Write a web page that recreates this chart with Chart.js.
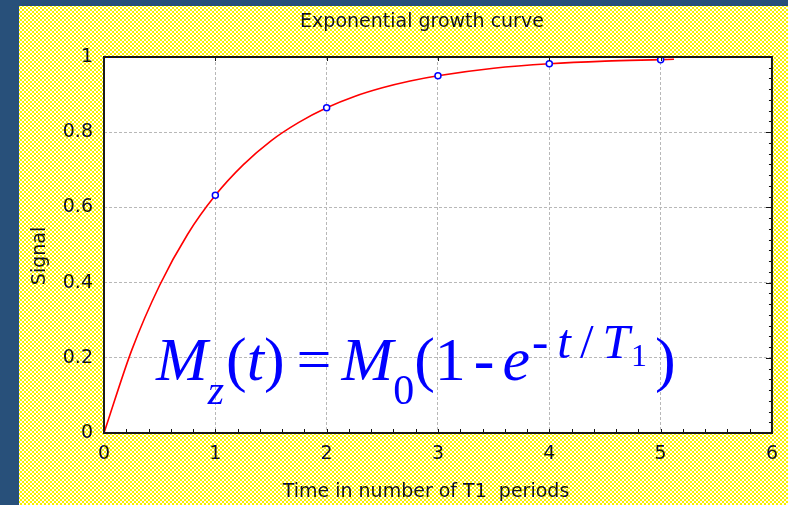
<!DOCTYPE html>
<html>
<head>
<meta charset="utf-8">
<script src="https://cdn.jsdelivr.net/npm/chart.js@4.4.1/dist/chart.umd.min.js"></script>
<style>
  html, body { margin: 0; padding: 0; }
  body { width: 788px; height: 505px; background: #28507a; position: relative; overflow: hidden; }
  #panel {
    position: absolute; left: 19px; top: 6px; right: 0; bottom: 0;
    background-color: #fffff4;
    background-image: radial-gradient(#f9f000 32%, transparent 40%), radial-gradient(#f9f000 32%, transparent 40%);
    background-size: 4px 4px;
    background-position: 0 0, 2px 2px;
  }
  #wrap { position: absolute; left: 0; top: 0; width: 788px; height: 505px; }
  #eq {
    position: absolute; left: 156px; top: 328px;
    font-family: "Liberation Serif", "DejaVu Serif", serif;
    font-size: 62px; line-height: 62px; color: #0000ff; white-space: nowrap;
  }
  #eq i { font-style: italic; }
  #eq .sub { font-size: 42px; position: relative; top: 24px; }
  #eq .sup { font-size: 49px; position: relative; top: -22px; letter-spacing: 9px; margin-left: 2px; }
  #eq .sup .tt { letter-spacing: 1px; }
  #eq .sup .sub1 { font-size: 32px; position: relative; top: 8px; letter-spacing: 0; }
</style>
</head>
<body>
<div id="panel"></div>
<div id="wrap"><canvas id="curveChart" width="788" height="505"></canvas></div>
<div id="eq"><i>M</i><span class="sub"><i>z</i></span><span style="margin-left:2px">(</span><i>t</i>)<span style="margin:0 10px 0 12px">=</span><i>M</i><span class="sub">0</span>(1<span style="margin:0 8px">-</span><i>e</i><span class="sup">-<i>t</i>/<i class="tt">T</i><span class="sub1">1</span></span><span style="margin-left:8px">)</span></div>

<script>
// recovery curve
const times = [0, 0.25, 0.5, 0.75, 1, 1.25, 1.5, 1.75, 2, 2.25, 2.5, 2.75, 3, 3.5, 4, 4.5, 5, 5.12];
const signal = [0, 0.221, 0.393, 0.528, 0.632, 0.713, 0.777, 0.826, 0.865, 0.895, 0.918, 0.936, 0.95, 0.97, 0.982, 0.989, 0.993, 0.994];

// measured points at whole T1 periods
const sampleTimes = [1, 2, 3, 4, 5];
const sampleSignal = [0.632, 0.865, 0.95, 0.982, 0.993];

const xTickLabels = ['0', '1', '2', '3', '4', '5', '6'];
const yTickLabels = ['0', '0.2', '0.4', '0.6', '0.8', '1'];

const titleText = 'Exponential growth curve';
const xTitle = 'Time in number of T1  periods';
const yTitle = 'Signal';

const FONT = '"DejaVu Sans", sans-serif';

// white plot box, inward ticks, frame and the titles
const frame = {
    id: 'frame',
    beforeDraw(chart) {
        const a = chart.chartArea, c = chart.ctx;
        c.save();
        c.fillStyle = '#ffffff';
        c.fillRect(a.left, a.top, a.right - a.left, a.bottom - a.top);
        c.restore();
    },
    afterDraw(chart) {
        const a = chart.chartArea, c = chart.ctx;
        const xs = chart.scales.x, ys = chart.scales.y;
        c.save();
        c.strokeStyle = '#111';
        c.lineWidth = 1;
        c.beginPath();
        // bottom ticks every 0.2
        for (let i = 0; i <= 30; i++) {
            const px = Math.round(xs.getPixelForValue(i * 0.2)) + 0.5;
            c.moveTo(px, a.bottom);
            c.lineTo(px, a.bottom - 4);
        }
        // top ticks on whole periods
        for (let i = 1; i < 6; i++) {
            const px = Math.round(xs.getPixelForValue(i)) + 0.5;
            c.moveTo(px, a.top);
            c.lineTo(px, a.top + 4);
        }
        // right side ticks
        for (let i = 0; i <= 35; i++) {
            const py = Math.round(ys.getPixelForValue(i / 35)) + 0.5;
            const len = (i % 7 === 0) ? 6 : 3;
            c.moveTo(a.right, py);
            c.lineTo(a.right - len, py);
        }
        c.stroke();

        c.lineWidth = 2;
        c.strokeStyle = '#1a1a1a';
        c.strokeRect(a.left, a.top, a.right - a.left, a.bottom - a.top);

        c.fillStyle = '#1a1a1a';
        c.font = '19px ' + FONT;
        c.textAlign = 'center';
        c.textBaseline = 'alphabetic';
        const mid = (a.left + a.right) / 2;
        c.fillText(titleText, mid - 16, 27);
        c.fillText(xTitle, mid - 12, 497);
        c.translate(45, (a.top + a.bottom) / 2 + 11);
        c.rotate(-Math.PI / 2);
        c.fillText(yTitle, 0, 0);
        c.restore();
    }
};

new Chart(document.getElementById('curveChart'), {
    type: 'scatter',
    data: {
        datasets: [{
            label: 'curve',
            data: times.map((t, i) => ({ x: t, y: signal[i] })),
            showLine: true,
            borderColor: '#ff0000',
            borderWidth: 1.6,
            pointRadius: 0,
            cubicInterpolationMode: 'monotone',
            order: 2
        }, {
            label: 'samples',
            data: sampleTimes.map((t, i) => ({ x: t, y: sampleSignal[i] })),
            showLine: false,
            pointRadius: 3,
            pointBorderWidth: 1.5,
            pointBorderColor: '#0000ff',
            pointBackgroundColor: '#ffffff',
            order: 1
        }]
    },
    options: {
        responsive: false,
        animation: false,
        layout: { padding: { top: 57, right: 14, left: 0, bottom: 0 } },
        plugins: { legend: { display: false }, tooltip: { enabled: false } },
        scales: {
            x: {
                type: 'linear', min: 0, max: 6,
                afterFit(s) { s.height = 72; },
                ticks: {
                    stepSize: 1, padding: 10,
                    color: '#1a1a1a', font: { family: FONT, size: 19 },
                    callback: (v) => xTickLabels[v]
                },
                grid: { drawTicks: false, color: '#b8b8b8', lineWidth: 1 },
                border: { display: false, dash: [3, 2] }
            },
            y: {
                type: 'linear', min: 0, max: 1,
                afterFit(s) { s.width = 104; },
                ticks: {
                    stepSize: 0.2, padding: 11,
                    color: '#1a1a1a', font: { family: FONT, size: 19 },
                    callback: (v) => yTickLabels[Math.round(v * 5)]
                },
                grid: { drawTicks: false, color: '#b8b8b8', lineWidth: 1 },
                border: { display: false, dash: [3, 2] }
            }
        }
    },
    plugins: [frame]
});
</script>
</body>
</html>
